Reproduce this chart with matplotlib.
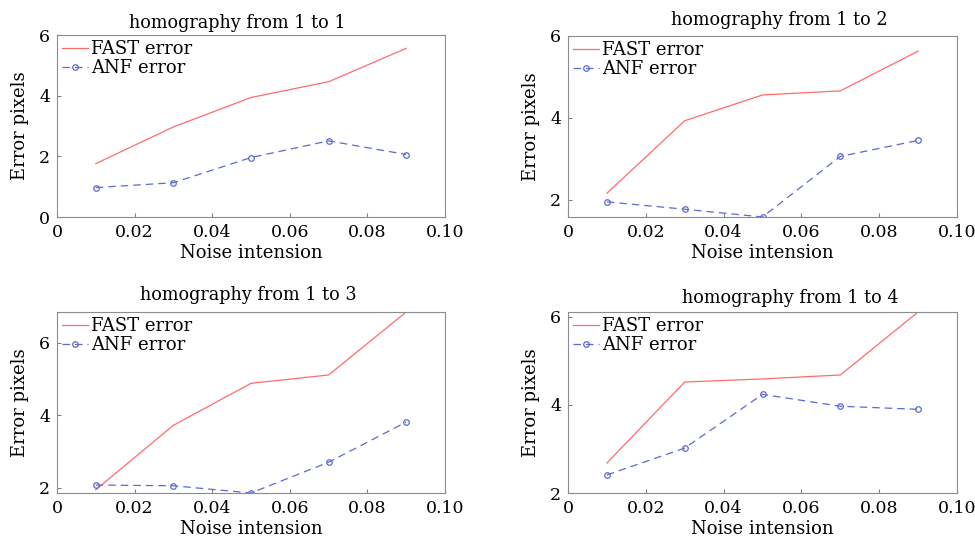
import matplotlib.pyplot as plt
import numpy as np

noise = [0.01, 0.03, 0.05, 0.07, 0.09]

fast_1 = [1.76, 2.97, 3.94, 4.46, 5.56]
anf_1 = [0.97, 1.13, 1.96, 2.51, 2.06]
fast_2 = [2.16, 3.93, 4.56, 4.66, 5.63]
anf_2 = [1.95, 1.77, 1.58, 3.06, 3.45]
fast_3 = [1.94, 3.72, 4.88, 5.11, 6.85]
anf_3 = [2.07, 2.05, 1.85, 2.70, 3.81]
fast_4 = [2.68, 4.52, 4.59, 4.68, 6.11]
anf_4 = [2.41, 3.02, 4.24, 3.97, 3.90]

titles = ["homography from 1 to 1", "homography from 1 to 2",
          "homography from 1 to 3", "homography from 1 to 4"]
fast_all = [fast_1, fast_2, fast_3, fast_4]
anf_all = [anf_1, anf_2, anf_3, anf_4]
ylims = [(0, 6), (1.58, 6), (1.85, 6.85), (2.0, 6.11)]
yticks = [[0, 2, 4, 6], [2, 4, 6], [2, 4, 6], [2, 4, 6]]

plt.rcParams['font.family'] = 'DejaVu Serif'

W, H = 975, 540
fig = plt.figure(figsize=(W / 100, H / 100), dpi=100)
# axes boxes in pixels: left, right, top, bottom
boxes = [(57, 445, 35, 217), (568, 957, 36, 217),
         (57, 445, 312, 493), (568, 957, 312, 493)]
# title centre (axes fraction) - the titles are not quite centred
title_pos = [(0.464, 1.066), (0.542, 1.088), (0.492, 1.094), (0.571, 1.077)]

for i in range(4):
    l, r, t, b = boxes[i]
    ax = fig.add_axes([l / W, 1 - b / H, (r - l) / W, (b - t) / H])
    ax.plot(noise, fast_all[i], color='#ff6b6b', lw=0.9, label='FAST error')
    ax.plot(noise, anf_all[i], color='#5b6bd0', lw=0.9, ls=(0, (6, 4)),
            marker='o', ms=4, mfc='none', mew=0.9, label='ANF error')
    ax.set_xlim(0, 0.1)
    ax.set_ylim(*ylims[i])
    ax.set_xticks([0, 0.02, 0.04, 0.06, 0.08, 0.10])
    ax.set_xticklabels(['0', '0.02', '0.04', '0.06', '0.08', '0.10'])
    ax.set_yticks(yticks[i])
    ax.tick_params(direction='in', length=3, labelsize=12.5, color='#808080')
    ax.tick_params(axis='x', pad=5)
    ax.tick_params(axis='y', pad=5)
    for s in ax.spines.values():
        s.set_color('#8c8c8c')
        s.set_linewidth(0.8)
    ax.text(title_pos[i][0], title_pos[i][1], titles[i], transform=ax.transAxes,
            ha='center', va='center', fontsize=12.7)
    ax.set_xlabel('Noise intension', fontsize=13, labelpad=2)
    ax.set_ylabel('Error pixels', fontsize=13, labelpad=7)
    ax.legend(loc='upper left', frameon=False, fontsize=13, handlelength=1.4,
              handletextpad=0.2, labelspacing=0.05, borderaxespad=0.2,
              borderpad=0.1, numpoints=1)

plt.savefig('out.png', dpi=100)
